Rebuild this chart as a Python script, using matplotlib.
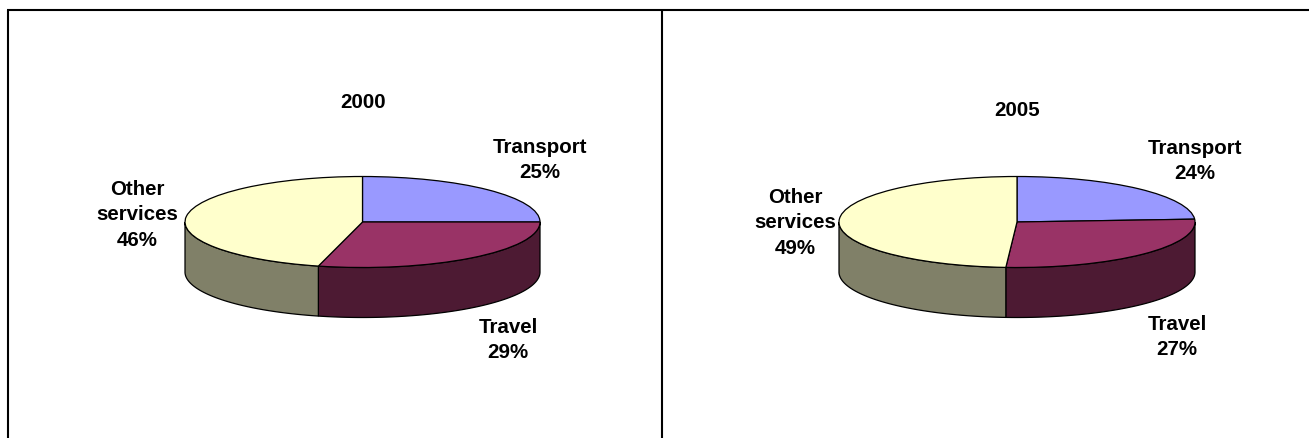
import numpy as np
import matplotlib
matplotlib.use("Agg")
import matplotlib.pyplot as plt
from matplotlib.lines import Line2D

plt.rcParams['font.family'] = ['Liberation Sans', 'DejaVu Sans']

W, H = 1309, 439

# data
categories = ["Transport", "Travel", "Other\nservices"]
values_2000 = [25, 29, 46]
values_2005 = [24, 27, 49]
colors = ["#9999FF", "#993366", "#FFFFCC"]
side_colors = ["#4D1A33", "#4D1A33", "#808068"]

fig = plt.figure(figsize=(W / 100, H / 100), dpi=100, facecolor="white")


def px(x, y):
    return x / W, 1 - y / H


def draw_pie(values, cx, cy, rx, ry, depth):
    # full-figure axes scaled so the unit pie lands on the ellipse in pixels
    ax = fig.add_axes([0, 0, 1, 1])
    ax.patch.set_alpha(0)
    d = depth / ry
    edges = np.cumsum([0] + values) / sum(values) * 360  # clockwise from 12 o'clock

    # side wall, only the front half is visible
    for i in range(len(values)):
        a0 = max(edges[i], 90)
        a1 = min(edges[i + 1], 270)
        if a1 <= a0:
            continue
        t = np.radians(np.linspace(a0, a1, 100))
        x = np.sin(t)
        y = np.cos(t)
        ax.fill(np.r_[x, x[::-1]], np.r_[y, y[::-1] - d],
                facecolor=side_colors[i], edgecolor="black", lw=0.9, zorder=1)

    ax.pie(values, colors=colors, startangle=90, counterclock=False, radius=1,
           wedgeprops={"edgecolor": "black", "linewidth": 0.9, "zorder": 2})
    ax.set_aspect("auto")
    ax.set_xlim(-cx / rx, (W - cx) / rx)
    ax.set_ylim((cy - H) / ry, cy / ry)
    ax.axis("off")


draw_pie(values_2000, 362.5, 223, 177.5, 45.5, 50)
draw_pie(values_2005, 1017, 223, 178, 45.5, 50)

# labels
label_style = dict(ha="center", va="center", fontsize=14.8, fontweight="bold", linespacing=1.46)
fig.text(*px(363, 102), "2000", **label_style)
fig.text(*px(1017, 111), "2005", **label_style)

pos_2000 = [(540, 160), (508, 340), (137, 215)]
pos_2005 = [(1195, 161), (1177, 337), (795, 223)]
for vals, positions in [(values_2000, pos_2000), (values_2005, pos_2005)]:
    for name, v, p in zip(categories, vals, positions):
        fig.text(*px(*p), f"{name}\n{v}%", **label_style)

# panel borders
for xs, ys in [((8, 8), (11, H)), ((7, W), (11, 11)), ((662, 662), (11, H))]:
    fig.add_artist(Line2D([x / W for x in xs], [1 - y / H for y in ys],
                          color="black", lw=1.5, solid_capstyle="butt"))

fig.savefig("out.png", dpi=100, facecolor="white")
